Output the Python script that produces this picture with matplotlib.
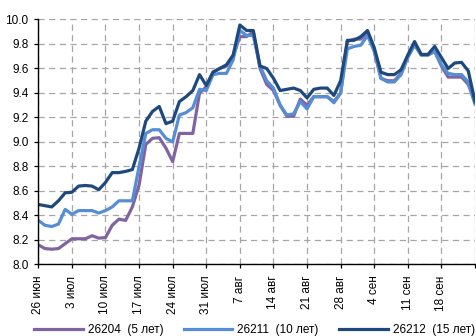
import pandas as pd
import numpy as np
import matplotlib
matplotlib.use("Agg")
import matplotlib.pyplot as plt

plt.rcParams['font.family'] = ['Liberation Sans', 'DejaVu Sans']

# trading days 26 Jun - 25 Sep
dates = pd.bdate_range("2013-06-26", "2013-09-25")

tick_labels = ["26 июн", "3 июл", "10 июл", "17 июл", "24 июл", "31 июл", "7 авг",
               "14 авг", "21 авг", "28 авг", "4 сен", "11 сен", "18 сен"]

names = ["26204  (5 лет)", "26211  (10 лет)", "26212  (15 лет)"]
colors = ["#8064A2", "#558ED5", "#1F497D"]

y_26204 = [8.16, 8.13, 8.125, 8.13, 8.17, 8.21, 8.21, 8.21, 8.235, 8.215,
           8.22, 8.32, 8.37, 8.36, 8.47, 8.65, 8.98, 9.03, 9.035, 8.95,
           8.84, 9.07, 9.07, 9.07, 9.40, 9.45, 9.57, 9.60, 9.62, 9.70,
           9.86, 9.86, 9.90, 9.60, 9.47, 9.42, 9.30, 9.21, 9.21, 9.35,
           9.30, 9.37, 9.37, 9.37, 9.33, 9.40, 9.82, 9.84, 9.84, 9.90,
           9.75, 9.52, 9.50, 9.50, 9.56, 9.70, 9.80, 9.71, 9.71, 9.74,
           9.62, 9.53, 9.53, 9.53, 9.47, 9.32]

y_26211 = [8.36, 8.32, 8.31, 8.33, 8.45, 8.41, 8.44, 8.44, 8.44, 8.42,
           8.44, 8.47, 8.52, 8.52, 8.52, 8.80, 9.07, 9.10, 9.10, 9.03,
           9.00, 9.22, 9.24, 9.28, 9.43, 9.42, 9.55, 9.56, 9.56, 9.67,
           9.91, 9.87, 9.87, 9.62, 9.50, 9.44, 9.30, 9.22, 9.23, 9.33,
           9.27, 9.37, 9.37, 9.37, 9.32, 9.40, 9.76, 9.78, 9.79, 9.87,
           9.74, 9.52, 9.49, 9.49, 9.55, 9.69, 9.79, 9.71, 9.71, 9.74,
           9.63, 9.56, 9.55, 9.55, 9.49, 9.31]

y_26212 = [8.49, 8.48, 8.47, 8.52, 8.585, 8.59, 8.64, 8.645, 8.64, 8.61,
           8.67, 8.75, 8.75, 8.76, 8.775, 8.95, 9.17, 9.25, 9.29, 9.15,
           9.17, 9.33, 9.37, 9.42, 9.55, 9.46, 9.57, 9.60, 9.63, 9.71,
           9.955, 9.91, 9.91, 9.62, 9.60, 9.52, 9.42, 9.43, 9.44, 9.42,
           9.36, 9.43, 9.44, 9.44, 9.38, 9.50, 9.83, 9.83, 9.86, 9.91,
           9.77, 9.57, 9.55, 9.55, 9.59, 9.71, 9.82, 9.715, 9.715, 9.78,
           9.69, 9.60, 9.645, 9.65, 9.58, 9.33]

x = np.arange(len(dates))

fig = plt.figure(figsize=(4.77, 3.36), dpi=100)
ax = fig.add_axes([0.0803, 0.2128, 0.9155, 0.7292])

for ys, c, n in zip([y_26204, y_26211, y_26212], colors, names):
    ax.plot(x, ys, color=c, lw=2.3, label=n, solid_joinstyle="round")

ax.set_xlim(0, len(dates) - 1)
ax.set_ylim(8.0, 10.0)
ax.set_yticks(np.arange(8.0, 10.01, 0.2))
ax.yaxis.set_major_formatter(matplotlib.ticker.FormatStrFormatter("%.1f"))
xt = np.arange(0, len(dates), 5)
ax.set_xticks(xt)
ax.set_xticklabels(tick_labels + [""] * (len(xt) - len(tick_labels)), rotation=90)

ax.grid(True, color="#A6A6A6", linestyle=(0, (5, 3.5)), lw=0.9)
ax.set_axisbelow(True)
for s in ["top", "right"]:
    ax.spines[s].set_visible(False)
for s in ["left", "bottom"]:
    ax.spines[s].set_linewidth(1.0)
ax.tick_params(axis="both", labelsize=8.5, length=3, width=0.9, direction="out", colors="black")
ax.tick_params(axis="y", pad=4)
ax.tick_params(axis="x", pad=5)

fig.legend(loc="center left", bbox_to_anchor=(0.072, 0.018), ncol=3, frameon=False,
           fontsize=8.5, handlelength=4.1, handletextpad=0.42, columnspacing=1.75,
           borderpad=0, borderaxespad=0)

fig.savefig("out.png", dpi=100)
